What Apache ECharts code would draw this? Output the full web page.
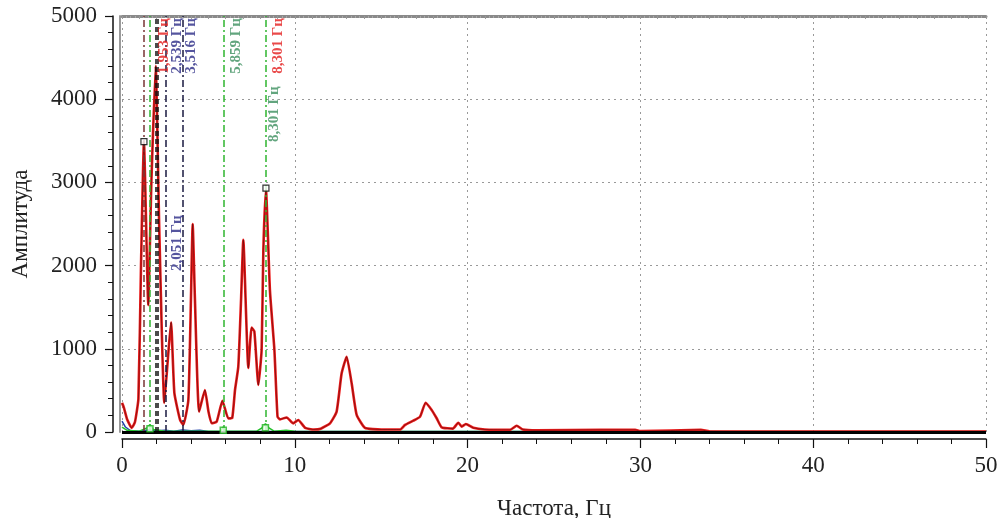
<!DOCTYPE html>
<html>
<head>
<meta charset="utf-8">
<script src="https://cdn.jsdelivr.net/npm/echarts@6/dist/echarts.min.js"></script>
<style>
html,body{margin:0;padding:0;background:#fff;}
#chart{width:1004px;height:518px;}
</style>
</head>
<body>
<div id="chart"></div>
<script>
// ---- data ----
const xTitle = 'Частота, Гц';
const yTitle = 'Амплитуда';

// main spectrum (red / black)
const spectrumFreq = [0,0.1,0.3,0.56,0.75,0.95,1.1,1.27,1.52,1.7,1.95,2.15,2.45,2.7,2.84,3.03,3.36,3.55,3.84,3.99,4.09,4.22,4.46,4.8,5.0,5.19,5.48,5.81,6.15,6.38,6.54,6.73,6.89,7.02,7.31,7.5,7.66,7.89,8.08,8.18,8.33,8.56,8.82,9.0,9.14,9.53,9.9,10.2,10.6,11.1,11.5,12.04,12.42,12.71,13.0,13.29,13.58,14.06,15,16.1,16.38,16.86,17.25,17.57,17.92,18.21,18.5,19.15,19.46,19.66,19.9,20.33,21,22.45,22.84,23.2,24,27.7,29.7,30,33.5,34,40,50];
const spectrumAmp  = [350,300,150,50,120,400,2000,3490,1525,3000,4400,2500,350,1000,1320,470,145,85,385,1600,2500,1600,245,505,250,105,125,376,164,170,505,785,1590,2310,770,1255,1210,565,985,2190,2917,1705,985,185,152,175,104,144,50,30,40,105,245,705,905,585,205,50,30,30,85,136,185,352,265,165,56,40,112,65,96,50,30,25,76,30,20,25,25,10,25,8,5,5];

// low-level blue and green traces
const blueFreq = [0,0.2,0.5,1,1.5,2,2.5,3,3.5,4,4.5,5,10,50];
const blueAmp  = [130,60,15,10,25,15,20,10,25,15,20,5,5,5];
const greenFreq = [0,0.3,1,1.45,1.62,1.8,2.5,5.7,5.86,6.0,7.8,8.1,8.3,8.5,8.8,9.5,10,50];
const greenAmp  = [60,20,10,50,90,30,10,10,60,10,10,50,100,50,10,20,10,5];

// vertical marker lines: frequency, colour
const markerFreq  = [1.27, 1.62, 1.953, 2.051, 2.539, 3.516, 5.859, 8.301];
const markerColor = ['#7a3535', '#2fb52f', '#111111', '#111111', '#1a1a40', '#1a1a40', '#2fb52f', '#2fb52f'];

// marker annotations: text, colour, anchor frequency, anchor amplitude
const noteText  = ['1,953 Гц', '2,539 Гц', '3,516 Гц', '5,859 Гц', '8,301 Гц', '8,301 Гц', '2,051 Гц'];
const noteColor = ['#e31b1b', '#2b2b86', '#2b2b86', '#3b8f5e', '#e31b1b', '#3b8f5e', '#2b2b86'];
const noteFreq  = [2.43, 3.18, 4.02, 6.63, 9.03, 8.83, 3.18];
const noteAmp   = [4640, 4640, 4640, 4640, 4640, 3820, 2270];

// peak markers
const peakFreq = [1.27, 8.33];
const peakAmp  = [3490, 2930];
const footFreq = [1.62, 5.86, 8.30];
const footAmp  = [40, 20, 50];

// ---- build ----
const zip = (a, b) => a.map((v, i) => [v, b[i]]);
const serif = 'Liberation Serif, Times New Roman, serif';

const chart = echarts.init(document.getElementById('chart'));
chart.setOption({
  animation: false,
  backgroundColor: '#fff',
  grid: { left: 122, right: 18, top: 16, bottom: 86, containLabel: false, outerBoundsMode: 'none' },
  xAxis: [
    {
      type: 'value', min: 0, max: 50, interval: 10, position: 'bottom', offset: 7,
      name: xTitle, nameLocation: 'middle', nameGap: 58,
      nameTextStyle: { fontFamily: serif, fontSize: 23, color: '#222' },
      axisLine: { show: true, onZero: false, lineStyle: { color: '#111', width: 1.5 } },
      axisTick: { show: true, inside: false, length: 9, lineStyle: { color: '#111', width: 1.2 } },
      minorTick: { show: true, splitNumber: 5, length: 5, lineStyle: { color: '#111', width: 1 } },
      axisLabel: { fontFamily: serif, fontSize: 23, color: '#222', margin: 15 },
      splitLine: { show: true, lineStyle: { color: '#999', type: [2, 4], width: 1 } }
    },
    {
      type: 'value', min: 0, max: 50, interval: 1, position: 'top', offset: 0,
      axisLine: { show: true, onZero: false, lineStyle: { color: '#8a8a8a', width: 3 } },
      axisTick: { show: true, inside: true, length: 3, lineStyle: { color: '#999' } },
      minorTick: { show: true, splitNumber: 4, length: 2, lineStyle: { color: '#aaa' } },
      axisLabel: { show: false }, splitLine: { show: false }
    }
  ],
  yAxis: [
    {
      type: 'value', min: 0, max: 5000, interval: 1000, position: 'left', offset: 9,
      name: yTitle, nameLocation: 'middle', nameGap: 81, nameRotate: 90,
      nameTextStyle: { fontFamily: serif, fontSize: 23, color: '#222' },
      axisLine: { show: true, onZero: false, lineStyle: { color: '#111', width: 1.5 } },
      axisTick: { show: true, inside: false, length: 8, lineStyle: { color: '#111', width: 1.2 } },
      minorTick: { show: true, splitNumber: 5, length: 5, lineStyle: { color: '#111', width: 1 } },
      axisLabel: { fontFamily: serif, fontSize: 23, color: '#222', margin: 16, formatter: v => String(v) },
      splitLine: { show: true, lineStyle: { color: '#999', type: [2, 4], width: 1 } }
    },
    {
      type: 'value', min: 0, max: 5000, position: 'left', offset: 2,
      axisLine: { show: true, onZero: false, lineStyle: { color: '#9a9a9a', width: 2 } },
      axisTick: { show: false }, axisLabel: { show: false }, splitLine: { show: false }
    }
  ],
  series: [
    {
      type: 'line', name: 'markers', data: [], symbol: 'none', silent: true,
      markLine: {
        symbol: 'none', silent: true, label: { show: false },
        data: markerFreq.map((f, i) => ({
          xAxis: f,
          lineStyle: { color: markerColor[i], width: 1.5, type: i === 2 || i === 3 ? [5, 3] : [7, 3, 2, 3] }
        })).concat([{ yAxis: 0, lineStyle: { color: '#000', width: 3, type: 'solid' } }])
      },
      z: 1
    },
    {
      type: 'line', name: 'blue', data: zip(blueFreq, blueAmp), symbol: 'none',
      lineStyle: { color: '#1f3fa8', width: 1.5 }, z: 2
    },
    {
      type: 'line', name: 'green', data: zip(greenFreq, greenAmp), symbol: 'none',
      lineStyle: { color: '#22c02a', width: 1.5 }, z: 2
    },
    {
      type: 'line', name: 'red', data: zip(spectrumFreq, spectrumAmp), symbol: 'none', smooth: 0.15,
      lineStyle: { color: '#ec1a1a', width: 2.6 }, z: 3
    },
    {
      type: 'line', name: 'black', data: zip(spectrumFreq, spectrumAmp), symbol: 'none', smooth: 0.15,
      lineStyle: { color: '#200808', width: 0.8, opacity: 0.55 }, z: 4
    },
    {
      type: 'scatter', name: 'peaks', data: zip(peakFreq, peakAmp), symbol: 'rect', symbolSize: 6,
      itemStyle: { color: '#fff', borderColor: '#000', borderWidth: 1.2 }, z: 5
    },
    {
      type: 'scatter', name: 'feet', data: zip(footFreq, footAmp), symbol: 'rect', symbolSize: 6,
      itemStyle: { color: '#e8ffe8', borderColor: '#22b522', borderWidth: 1.5 }, z: 5
    },
    {
      type: 'scatter', name: 'notes', symbolSize: 0, z: 6,
      data: noteText.map((t, i) => ({
        value: [noteFreq[i], noteAmp[i]],
        label: {
          show: true, formatter: t, position: 'inside', rotate: 90,
          color: noteColor[i], fontFamily: serif, fontWeight: 'bold', fontSize: 15
        }
      }))
    }
  ]
});
</script>
</body>
</html>
